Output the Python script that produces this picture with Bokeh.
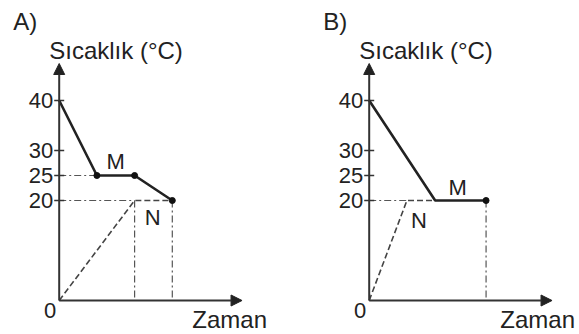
from bokeh.plotting import figure
from bokeh.layouts import row
from bokeh.models import Range1d, Arrow, NormalHead
from bokeh.core.properties import value
from bokeh.embed import file_html
from bokeh.resources import INLINE

# ---- data ----
tick_values = [20, 25, 30, 40]
tick_labels = ["20", "25", "30", "40"]

a_curve_t = [0, 1, 2, 3]
a_curve_T = [40, 25, 25, 20]
a_n_t = [0, 2, 3]
a_n_T = [0, 20, 20]

b_curve_t = [0, 1.75, 3.1]
b_curve_T = [40, 20, 20]
b_n_t = [0, 1, 1.75]
b_n_T = [0, 20, 20]

y_title = "Sıcaklık (°C)"
x_title = "Zaman"

# ---- layout constants ----
PXT = 37.7   # px per time unit
PXD = 5.0    # px per degree
H = 334
BOTTOM = 34  # px below the origin
X_TIP = 4.85
Y_TIP = 47.4
FONT = value("Liberation Sans")
INK = "#222222"


def panel(name, width, axis_px, curve_t, curve_T, n_t, n_T, dots_idx,
          hguides, vguides, m_pos, m_off, n_off, zaman_dx):
    x0 = -axis_px / PXT
    p = figure(width=width, height=H, output_backend="svg", toolbar_location=None,
               x_range=Range1d(x0, x0 + width / PXT),
               y_range=Range1d(-BOTTOM / PXD, (H - BOTTOM) / PXD),
               x_axis_type=None, y_axis_type=None, min_border=0)
    p.grid.visible = False
    p.outline_line_color = None
    p.background_fill_color = "white"

    # guides (dash-dot)
    for (t1, t2, T) in hguides:
        p.line([t1, t2], [T, T], line_color="#555555", line_width=1.2, line_dash="7 3 2 3")
    for (t, T1, T2) in vguides:
        p.line([t, t], [T1, T2], line_color="#555555", line_width=1.2, line_dash="7 3 2 3")

    # axes with arrow heads
    p.add_layout(Arrow(end=NormalHead(size=11, fill_color="#222222", line_color="#222222"),
                       x_start=0, y_start=0, x_end=0, y_end=Y_TIP,
                       line_color="#333333", line_width=2))
    p.add_layout(Arrow(end=NormalHead(size=11, fill_color="#222222", line_color="#222222"),
                       x_start=0, y_start=0, x_end=X_TIP, y_end=0,
                       line_color="#333333", line_width=2))
    # ticks
    p.scatter([0] * len(tick_values), tick_values, marker="dash", size=10,
              line_color="#333333", line_width=1.5)
    p.text([0] * len(tick_values), tick_values, text=tick_labels, x_offset=-6,
           text_align="right", text_baseline="middle", text_font=FONT,
           text_font_size="22px", text_color=INK)
    p.text([0], [0], text=["0"], x_offset=-3, y_offset=2, text_align="right",
           text_baseline="top", text_font=FONT, text_font_size="22px", text_color=INK)

    # N (dashed)
    p.line(n_t, n_T, line_color="#444444", line_width=1.6, line_dash="6 3")
    # M (solid)
    p.line(curve_t, curve_T, line_color="#222222", line_width=2.6)
    p.scatter([curve_t[i] for i in dots_idx], [curve_T[i] for i in dots_idx],
              size=6, color="#111111")

    # labels M / N
    i0, i1 = m_pos
    mx = (curve_t[i0] + curve_t[i1]) / 2
    my = curve_T[i0]
    p.text([mx], [my], text=["M"], x_offset=m_off[0], y_offset=m_off[1],
           text_align="center", text_baseline="middle", text_font=FONT,
           text_font_size="22px", text_color=INK)
    p.text([n_t[1]], [n_T[1]], text=["N"], x_offset=n_off[0], y_offset=n_off[1],
           text_align="center", text_baseline="middle", text_font=FONT,
           text_font_size="22px", text_color=INK)

    # titles
    p.text([0], [Y_TIP], text=[y_title], x_offset=-10, y_offset=-13,
           text_align="left", text_baseline="alphabetic", text_font=FONT,
           text_font_size="24px", text_color=INK)
    p.text([X_TIP], [0], text=[x_title], x_offset=zaman_dx, y_offset=19,
           text_align="right", text_baseline="alphabetic", text_font=FONT,
           text_font_size="24px", text_color=INK)
    p.text([0], [Y_TIP], text=[name], x_offset=-46, y_offset=-42,
           text_align="left", text_baseline="alphabetic", text_font=FONT,
           text_font_size="24px", text_color=INK)
    return p


pa = panel("A)", 290, 58.7, a_curve_t, a_curve_T, a_n_t, a_n_T, [1, 2, 3],
           hguides=[(0, a_curve_t[1], a_curve_T[1]), (0, a_n_t[1], a_n_T[1])],
           vguides=[(a_n_t[1], a_n_T[1], 0), (a_curve_t[-1], a_curve_T[-1], 0)],
           m_pos=(1, 2), m_off=(0, -14), n_off=(18, 17), zaman_dx=25)
pb = panel("B)", 289, 78.7, b_curve_t, b_curve_T, b_n_t, b_n_T, [2],
           hguides=[(0, b_n_t[1], b_n_T[1])],
           vguides=[(b_curve_t[-1], b_curve_T[-1], 0)],
           m_pos=(1, 2), m_off=(-3, -13), n_off=(12, 20), zaman_dx=23)

layout = row(pa, pb)
open("out.html", "w").write(file_html(layout, INLINE))
